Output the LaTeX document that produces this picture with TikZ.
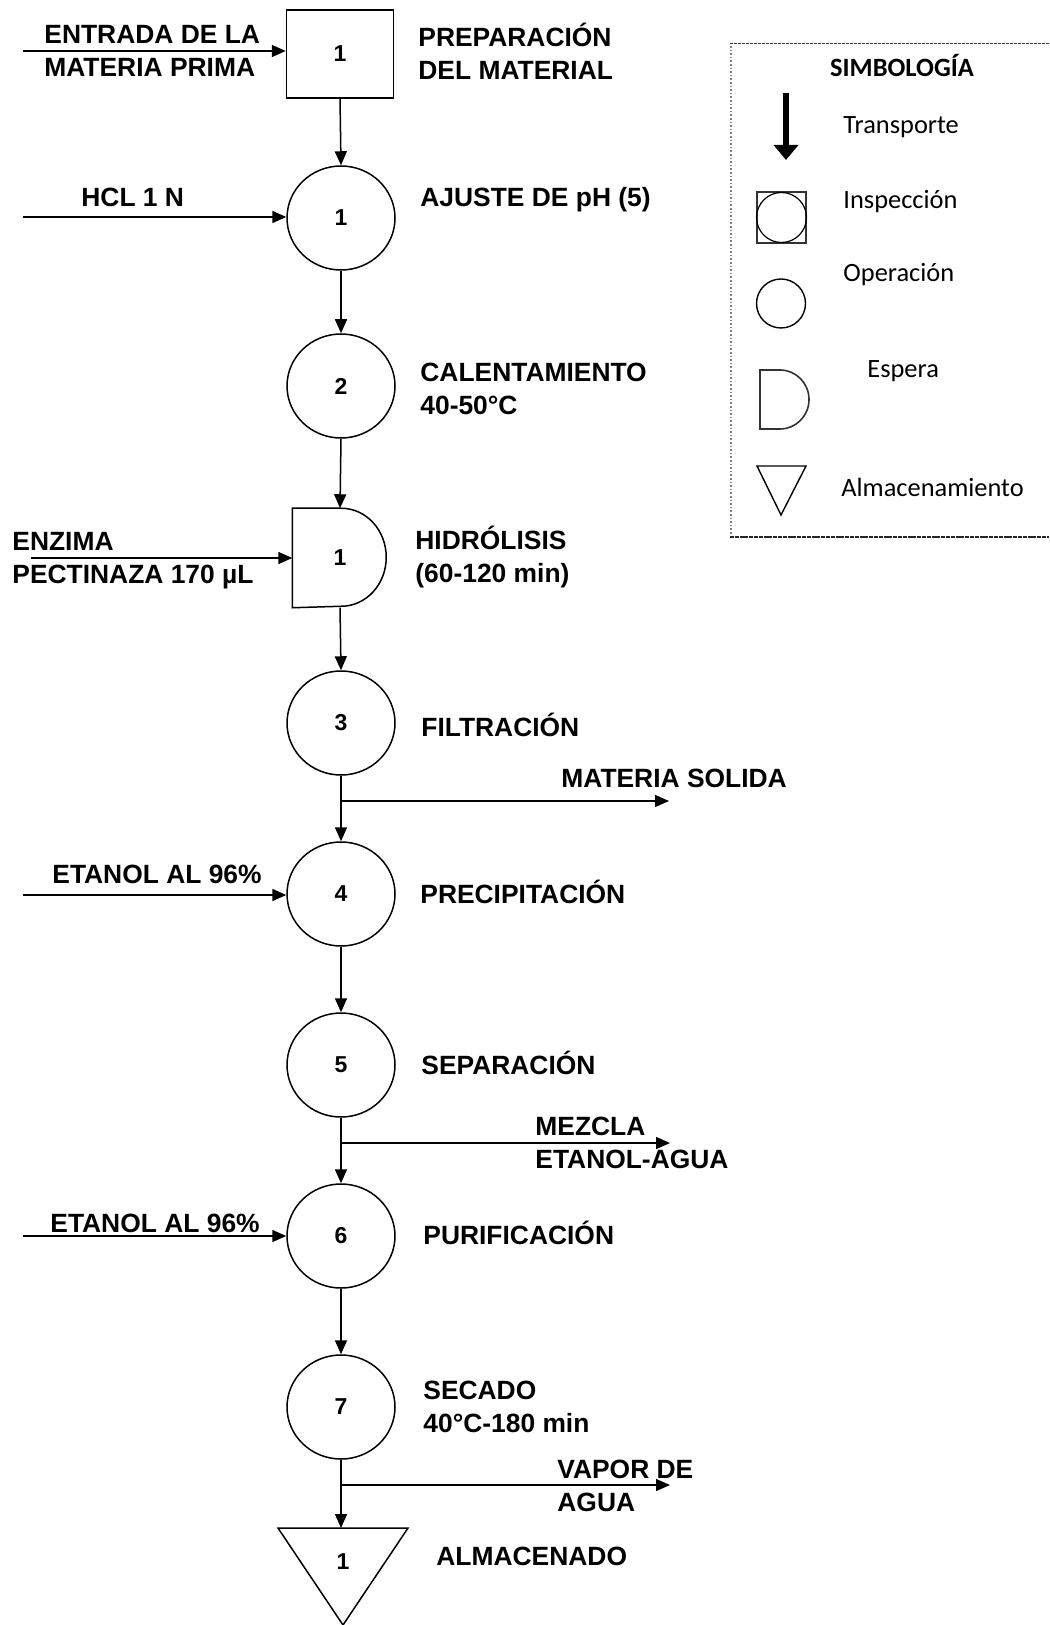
\documentclass[tikz,border=0pt]{standalone}
\usepackage{fontspec}
\setmainfont{Liberation Sans}
\newfontfamily\legfont{Carlito}
\usetikzlibrary{arrows.meta,shapes.geometric}

\begin{document}
\begin{tikzpicture}[x=0.5pt, y=-0.5pt,
	flow/.style={draw=black, line width=0.75pt, -{Triangle[length=7pt, width=6pt]}},
	shp/.style={draw=black, line width=0.75pt, inner sep=0pt, font=\fontsize{11.5}{13}\selectfont\bfseries},
	oper/.style={shp, ellipse, minimum width=54pt, minimum height=52pt},
	prepbox/.style={shp, rectangle, minimum width=53.5pt, minimum height=44pt},
	holdbox/.style={shp, draw=none, rectangle, minimum width=47pt, minimum height=49pt},
	lbl/.style={anchor=base west, align=left, inner sep=0pt, font=\fontsize{13.2}{16.5}\selectfont\bfseries},
	leg/.style={anchor=base west, inner sep=0pt, font=\legfont\fontsize{13.2}{16}\selectfont}]
	\useasboundingbox (0,0) rectangle (1049,1625);

	% process column
	\node[prepbox] (prep) at (340,54) {1};
	\node[oper] (aju) at (341,218) {1};
	\node[oper] (cal) at (341,386) {2};
	\node[holdbox] (hid) at (340,558) {1};
	\draw[line width=0.75pt] (hid.south west) -- (hid.north west) -- ([xshift=24.5pt]hid.north west)
		arc[start angle=90, end angle=-90, x radius=22.5pt, y radius=24.5pt] -- cycle;
	\node[oper] (fil) at (341,723) {3};
	\node[oper] (pre) at (341,894) {4};
	\node[oper] (sep) at (341,1065) {5};
	\node[oper] (pur) at (341,1236) {6};
	\node[oper] (sec) at (341,1407) {7};
	\node[shp, draw=none] (alm) at (343,1562) {1};
	\coordinate (almtop) at ([yshift=17pt]alm.center);
	\draw[line width=0.75pt] ([shift={(-32.5pt,17pt)}]alm.center) -- ([shift={(32.5pt,17pt)}]alm.center)
		-- ([shift={(0pt,-31.5pt)}]alm.center) -- cycle;

	\draw[flow] (prep.south) -- (aju.north);
	\draw[flow] (aju.south) -- (cal.north);
	\draw[flow] (cal.south) -- (hid.north);
	\draw[flow] (hid.south) -- (fil.north);
	\draw[flow] (fil.south) -- (pre.north);
	\draw[flow] (pre.south) -- (sep.north);
	\draw[flow] (sep.south) -- (pur.north);
	\draw[flow] (pur.south) -- (sec.north);
	\draw[flow] (sec.south) -- (sec.south |- almtop);

	% inputs
	\coordinate (in0) at (23,51);
	\coordinate (in1) at (23,217);
	\coordinate (in2) at (31,558);
	\coordinate (in3) at (23,895);
	\coordinate (in4) at (23,1236);
	\draw[flow] (in0) -- (in0 -| prep.west);
	\draw[flow] (in1) -- (in1 -| aju.west);
	\draw[flow] (in2) -- (in2 -| hid.west);
	\draw[flow] (in3) -- (in3 -| pre.west);
	\draw[flow] (in4) -- (in4 -| pur.west);

	% outputs
	\coordinate (br3) at (341,801);
	\coordinate (out3) at (669,801);
	\coordinate (br5) at (341,1143);
	\coordinate (out5) at (670,1143);
	\coordinate (br7) at (341,1485);
	\coordinate (out7) at (670,1485);
	\draw[flow] (br3) -- (out3);
	\draw[flow] (br5) -- (out5);
	\draw[flow] (br7) -- (out7);

	% labels (base = last line)
	\node[lbl] (lent) at (44,77) {ENTRADA DE LA\\MATERIA PRIMA};
	\node[lbl] (lhcl) at (81,207) {HCL 1 N};
	\node[lbl] (lenz) at (12,583) {ENZIMA\\PECTINAZA 170 µL};
	\node[lbl] (leta1) at (52,883) {ETANOL AL 96\%};
	\node[lbl] (leta2) at (50,1232) {ETANOL AL 96\%};
	\node[lbl] (lsol) at (561,787) {MATERIA SOLIDA};
	\node[lbl] (lmez) at (535,1168) {MEZCLA\\ETANOL-AGUA};
	\node[lbl] (lvap) at (557,1511) {VAPOR DE\\AGUA};
	\node[lbl] (lprep) at (418,80) {PREPARACIÓN\\DEL MATERIAL};
	\node[lbl] (laju) at (420,207) {AJUSTE DE pH (5)};
	\node[lbl] (lcal) at (420,415) {CALENTAMIENTO\\40-50°C};
	\node[lbl] (lhid) at (415,582) {HIDRÓLISIS\\(60-120 min)};
	\node[lbl] (lfil) at (421,736) {FILTRACIÓN};
	\node[lbl] (lpre) at (420,903) {PRECIPITACIÓN};
	\node[lbl] (lsep) at (421,1074) {SEPARACIÓN};
	\node[lbl] (lpur) at (423,1244) {PURIFICACIÓN};
	\node[lbl] (lsec) at (423,1432) {SECADO\\40°C-180 min};
	\node[lbl] (lalm) at (436,1565) {ALMACENADO};

	% legend
	\draw[gray, densely dotted, line width=0.8pt] (731,46) -- (731,536);
	\draw[black!80, dash pattern=on 1.5pt off 0.5pt, line width=0.5pt] (730,44) -- (1049,44);
	\draw[black!85, dash pattern=on 2pt off 0.4pt, line width=1pt] (730,537) -- (1049,537);
	\node[font=\legfont\bfseries\fontsize{13.2}{16}\selectfont, anchor=base, inner sep=0pt] (simb) at (902,76.5) {SIMBOLOGÍA};
	\coordinate (tra) at (786,93);
	\coordinate (trb) at (786,160);
	\draw[line width=3pt, -{Triangle[length=7.5pt, width=12pt]}] (tra) -- (trb);
	\draw[black!80, line width=1pt] (757,192) rectangle (806,243);
	\draw[line width=0.6pt] (781.5,217.5) circle[radius=12.5pt];
	\draw[line width=0.7pt] (781,303.5) circle[radius=12.25pt];
	\draw[black!80, line width=0.8pt] (760,429) -- (760,370) -- (780,370)
		arc[start angle=90, end angle=-90, x radius=14.5pt, y radius=14.75pt] -- cycle;
	\draw[line width=0.7pt] (757,466) -- (806,466) -- (781,515) -- cycle;
	\node[leg] (ltra) at (843,134) {Transporte};
	\node[leg] (lins) at (843,209) {Inspección};
	\node[leg] (lope) at (843,282) {Operación};
	\node[leg] (lesp) at (867,378) {Espera};
	\node[leg] (lalmleg) at (841,497) {Almacenamiento};
\end{tikzpicture}
\end{document}
